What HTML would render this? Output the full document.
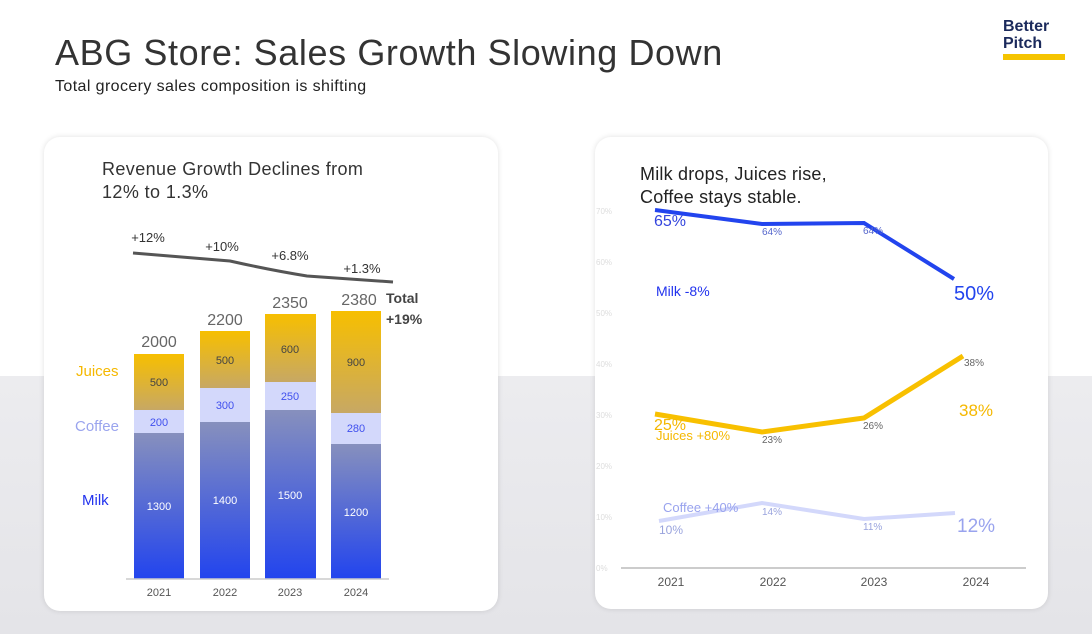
<!DOCTYPE html>
<html><head><style>
body{margin:0;width:1092px;height:634px;overflow:hidden;font-family:"Liberation Sans",sans-serif;position:relative;background:linear-gradient(#fff 0,#fff 376px,#ececef 376px,#e4e4e8 634px)}
.a{position:absolute;white-space:nowrap}
.card{position:absolute;background:#fff;border-radius:16px;box-shadow:0 0 6px rgba(0,0,0,0.12)}
</style></head><body>
<div class="a" style="left:55px;top:32px;font-size:36px;letter-spacing:0.6px;color:#333">ABG Store: Sales Growth Slowing Down</div>
<div class="a" style="left:55px;top:78px;font-size:16px;letter-spacing:0.4px;color:#222">Total grocery sales composition is shifting</div>
<div class="a" style="left:1003px;top:18px;font-size:16px;font-weight:bold;color:#1b2a5c;line-height:17px">Better<br>Pitch</div>
<div class="a" style="left:1003px;top:54px;width:62px;height:6px;background:#f5c400"></div>
<div class="card" style="left:44px;top:137px;width:454px;height:474px"></div>
<div class="card" style="left:595px;top:137px;width:453px;height:472px"></div>
<div class="a" style="left:102px;top:158px;font-size:18px;letter-spacing:0.4px;color:#333;line-height:23px">Revenue Growth Declines from<br>12% to 1.3%</div>
<div class="a" style="left:640px;top:163px;font-size:18px;letter-spacing:0.2px;color:#222;line-height:23px">Milk drops, Juices rise,<br>Coffee stays stable.</div>
<svg class="a" style="left:0;top:0" width="1092" height="634">
<defs>
<linearGradient id="m" x1="0" y1="0" x2="0" y2="1"><stop offset="0" stop-color="#8790bd"/><stop offset="1" stop-color="#2244ee"/></linearGradient>
<linearGradient id="j" x1="0" y1="0" x2="0" y2="1"><stop offset="0" stop-color="#f7bf00"/><stop offset="1" stop-color="#c7a864"/></linearGradient>
</defs>
<g font-family="Liberation Sans" text-anchor="middle">
<rect x="134" y="354" width="50" height="56" fill="url(#j)"/><rect x="134" y="410" width="50" height="23" fill="#d3d8fb"/><rect x="134" y="433" width="50" height="146" fill="url(#m)"/>
<rect x="200" y="331" width="50" height="57" fill="url(#j)"/><rect x="200" y="388" width="50" height="34" fill="#d3d8fb"/><rect x="200" y="422" width="50" height="157" fill="url(#m)"/>
<rect x="265" y="314" width="51" height="68" fill="url(#j)"/><rect x="265" y="382" width="51" height="28" fill="#d3d8fb"/><rect x="265" y="410" width="51" height="169" fill="url(#m)"/>
<rect x="331" y="311" width="50" height="102" fill="url(#j)"/><rect x="331" y="413" width="50" height="31" fill="#d3d8fb"/><rect x="331" y="444" width="50" height="135" fill="url(#m)"/>
<line x1="126" y1="579" x2="389" y2="579" stroke="#ccc" stroke-width="1.5"/>
<g font-size="11" fill="#444"><text x="159" y="386">500</text><text x="225" y="364">500</text><text x="290" y="353">600</text><text x="356" y="366">900</text></g>
<g font-size="11" fill="#4050ee"><text x="159" y="426">200</text><text x="225" y="409">300</text><text x="290" y="400">250</text><text x="356" y="432">280</text></g>
<g font-size="11" fill="#fff"><text x="159" y="510">1300</text><text x="225" y="504">1400</text><text x="290" y="499">1500</text><text x="356" y="516">1200</text></g>
<g font-size="11" fill="#555"><text x="159" y="596">2021</text><text x="225" y="596">2022</text><text x="290" y="596">2023</text><text x="356" y="596">2024</text></g>
<g font-size="16" fill="#666"><text x="159" y="347">2000</text><text x="225" y="325">2200</text><text x="290" y="308">2350</text><text x="359" y="305">2380</text></g>
<path d="M133 253 L230 261 Q270 270 307 276 L393 282" fill="none" stroke="#555" stroke-width="3"/>
<g font-size="13" fill="#333"><text x="148" y="242">+12%</text><text x="222" y="251">+10%</text><text x="290" y="260">+6.8%</text><text x="362" y="273">+1.3%</text></g>
<text x="386" y="303" font-size="14" font-weight="bold" fill="#444" text-anchor="start">Total</text>
<text x="386" y="324" font-size="14" font-weight="bold" fill="#444" text-anchor="start">+19%</text>
<g font-size="15" text-anchor="start"><text x="76" y="376" fill="#f5b800">Juices</text><text x="75" y="431" fill="#9aa4ee">Coffee</text><text x="82" y="505" fill="#2233ee">Milk</text></g>
<line x1="621" y1="568" x2="1026" y2="568" stroke="#bbb" stroke-width="1.5"/>
<g font-size="8" fill="#ddd" text-anchor="start"><text x="596" y="214">70%</text><text x="596" y="265">60%</text><text x="596" y="316">50%</text><text x="596" y="367">40%</text><text x="596" y="418">30%</text><text x="596" y="469">20%</text><text x="596" y="520">10%</text><text x="596" y="571">0%</text></g>
<g font-size="12" fill="#555"><text x="671" y="586">2021</text><text x="773" y="586">2022</text><text x="874" y="586">2023</text><text x="976" y="586">2024</text></g>
<polyline points="655,210 762,224 864,223 954,279" fill="none" stroke="#2244ee" stroke-width="4"/>
<polyline points="655,414 762,432 864,418 963,356" fill="none" stroke="#f8c000" stroke-width="5"/>
<polyline points="659,521 762,503 864,519 955,513" fill="none" stroke="#d3d8fb" stroke-width="4"/>
<g text-anchor="start">
<text x="654" y="226" font-size="16" fill="#3344dd">65%</text>
<text x="762" y="235" font-size="10" fill="#5566cc">64%</text><text x="863" y="234" font-size="10" fill="#5566cc">64%</text>
<text x="954" y="300" font-size="20" fill="#2244ee">50%</text>
<text x="656" y="296" font-size="14" fill="#2233ee">Milk -8%</text>
<text x="964" y="366" font-size="10" fill="#666">38%</text>
<text x="959" y="416" font-size="17" fill="#f5b800">38%</text>
<text x="654" y="430" font-size="16" fill="#f5b800">25%</text>
<text x="656" y="440" font-size="13" fill="#f5b800">Juices +80%</text>
<text x="762" y="443" font-size="10" fill="#666">23%</text><text x="863" y="429" font-size="10" fill="#666">26%</text>
<text x="663" y="512" font-size="13" fill="#99a3ee">Coffee +40%</text>
<text x="659" y="534" font-size="12" fill="#99a3dd">10%</text>
<text x="762" y="515" font-size="10" fill="#99a3dd">14%</text><text x="863" y="530" font-size="10" fill="#99a3dd">11%</text>
<text x="957" y="532" font-size="19" fill="#99a3ee">12%</text>
</g>
</g></svg>
</body></html>
